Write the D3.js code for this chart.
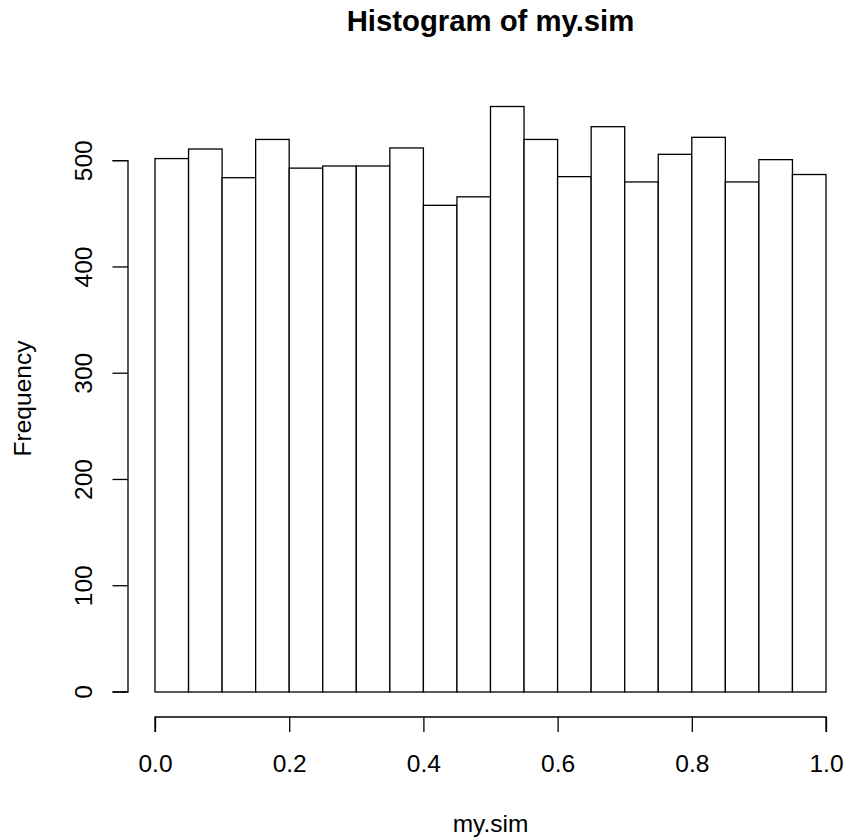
<!DOCTYPE html>
<html>
<head>
<meta charset="utf-8">
<script src="https://cdn.jsdelivr.net/npm/d3@7"></script>
<style>
  html, body { margin: 0; padding: 0; background: #fff; }
  svg { display: block; }
  text { font-family: "Liberation Sans", Arial, Helvetica, sans-serif; fill: #000; }
</style>
</head>
<body>
<script>
// Histogram bins (0 to 1, width 0.05)
const binStarts = [0.00, 0.05, 0.10, 0.15, 0.20, 0.25, 0.30, 0.35, 0.40, 0.45,
                   0.50, 0.55, 0.60, 0.65, 0.70, 0.75, 0.80, 0.85, 0.90, 0.95];
const binWidth = 0.05;
const counts = [502, 511, 484, 520, 493, 495, 495, 512, 458, 466,
                551, 520, 485, 532, 480, 506, 522, 480, 501, 487];
const xTicks = [0, 0.2, 0.4, 0.6, 0.8, 1.0];
const yTicks = [0, 100, 200, 300, 400, 500];
const titleText = "Histogram of my.sim";
const xLabel = "my.sim";
const yLabel = "Frequency";

const W = 847, H = 840;
const FONT = "Liberation Sans, Arial, Helvetica, sans-serif";
const svg = d3.select("body").append("svg").attr("width", W).attr("height", H);

const x = d3.scaleLinear().domain([0, 1]).range([155, 826]);
const y = d3.scaleLinear().domain([0, 500]).range([692, 160.7]);

// bars
svg.append("g").selectAll("rect").data(binStarts).join("rect")
  .attr("x", d => x(d))
  .attr("width", d => x(d + binWidth) - x(d))
  .attr("y", (d, i) => y(counts[i]))
  .attr("height", (d, i) => y(0) - y(counts[i]))
  .attr("fill", "#fff").attr("stroke", "#000").attr("stroke-width", 1.3);

// x axis
const xAxisY = 717;
const gx = svg.append("g").attr("transform", `translate(0,${xAxisY})`)
  .call(d3.axisBottom(x).tickValues(xTicks).tickFormat(d3.format(".1f")).tickSize(15));
gx.selectAll("path, line").attr("stroke", "#000").attr("stroke-width", 1.3);
gx.select(".domain").attr("d", `M${x(0)},15V0H${x(1)}V15`);
gx.selectAll("text")
  .attr("font-size", 24.5).attr("font-family", FONT)
  .attr("y", 772 - xAxisY).attr("dy", null);

// y axis
const yAxisX = 128;
const gy = svg.append("g").attr("transform", `translate(${yAxisX},0)`)
  .call(d3.axisLeft(y).tickValues(yTicks).tickSize(15.5));
gy.selectAll("path, line").attr("stroke", "#000").attr("stroke-width", 1.3);
gy.select(".domain").attr("d", `M-15.5,${y(0)}H0V${y(500)}H-15.5`);
gy.selectAll(".tick").attr("transform", null);
gy.selectAll(".tick line").attr("transform", d => `translate(0,${y(d)})`);
gy.selectAll(".tick text")
  .attr("font-size", 24.5).attr("font-family", FONT)
  .attr("text-anchor", "middle")
  .attr("dy", null).attr("x", null).attr("y", null)
  .attr("transform", d => `translate(${92 - yAxisX},${y(d)}) rotate(-90)`);

// title
svg.append("text").attr("x", 490.5).attr("y", 31).attr("text-anchor", "middle")
  .attr("font-size", 29.3).attr("font-weight", "bold").text(titleText);

// axis labels
svg.append("text").attr("x", 490.5).attr("y", 832).attr("text-anchor", "middle")
  .attr("font-size", 24.5).text(xLabel);
svg.append("text").attr("transform", `translate(31,398.5) rotate(-90)`).attr("text-anchor", "middle")
  .attr("font-size", 24.5).text(yLabel);
</script>
</body>
</html>
